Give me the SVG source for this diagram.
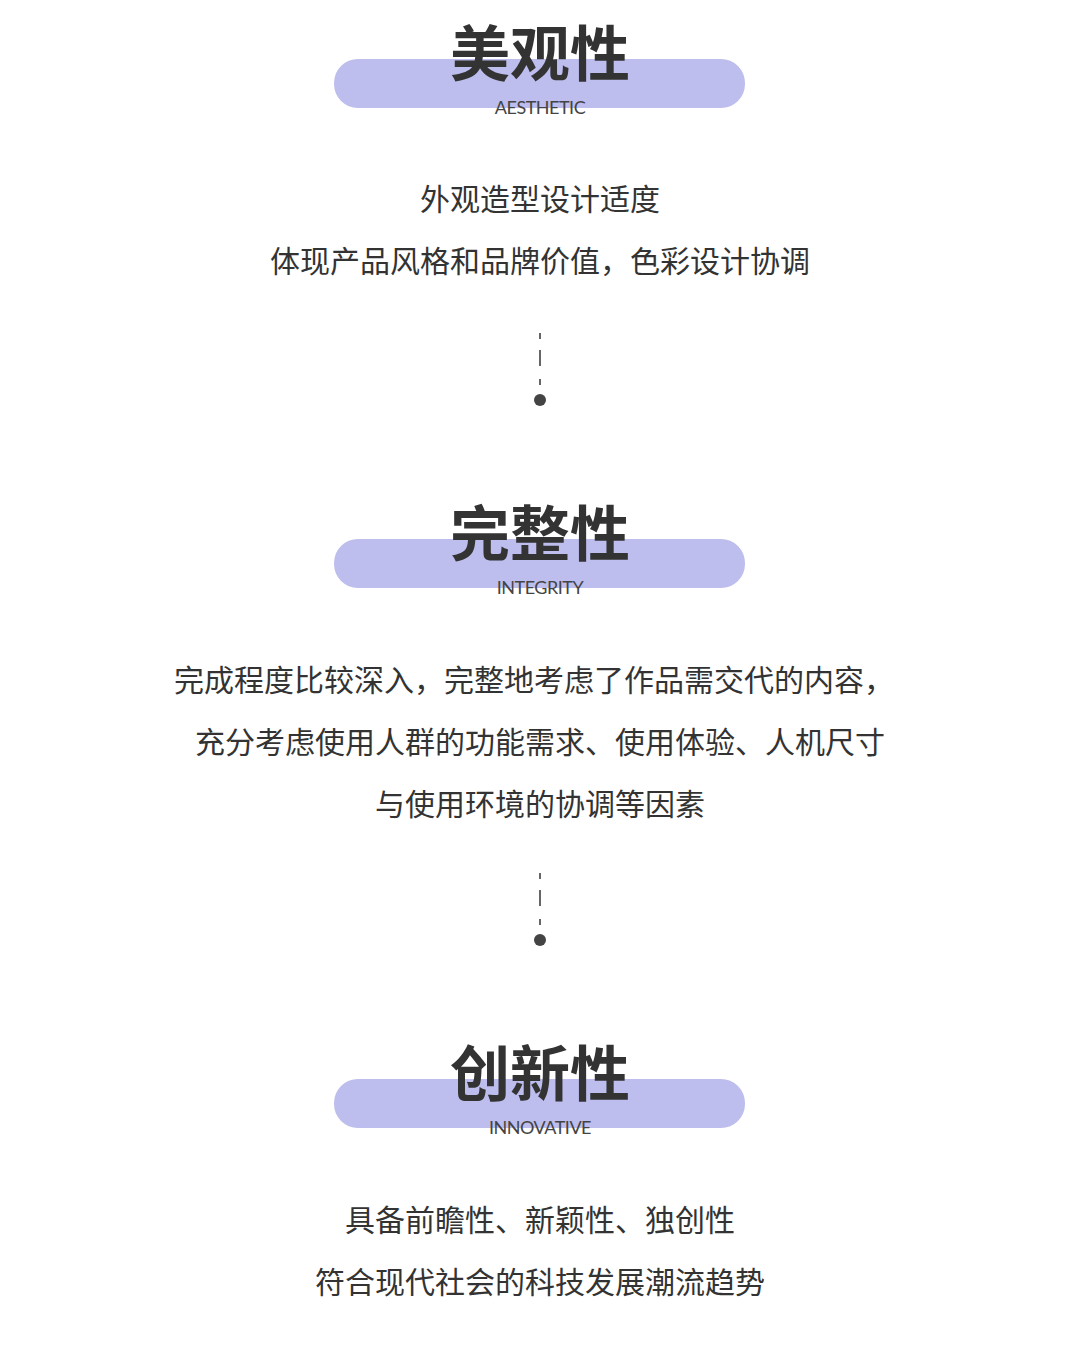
<svg xmlns="http://www.w3.org/2000/svg" width="1080" height="1370" viewBox="0 0 1080 1370">
<style>
.pill{fill:#bdbdee}
.t{font-family:"Noto Sans CJK SC","Noto Sans",sans-serif;font-weight:700;font-size:60px;fill:#333;text-anchor:middle}
.s{font-family:"Lato","Liberation Sans",sans-serif;font-size:18px;fill:#444;text-anchor:middle;letter-spacing:-0.5px}
.b{font-family:"Noto Sans CJK SC",sans-serif;font-size:30px;fill:#333;text-anchor:middle}
.d{stroke:#666;stroke-width:2}
</style>
<rect width="1080" height="1370" fill="#fff"/>
<g id="aesthetic">
<rect class="pill" x="334" y="59" width="411" height="49" rx="24"/>
<text class="t" x="540" y="76">美观性</text>
<text class="s" x="540" y="114">AESTHETIC</text>
<text class="b" x="540" y="210">外观造型设计适度</text>
<text class="b" x="540" y="272">体现产品风格和品牌价值，色彩设计协调</text>
</g>
<g id="integrity">
<rect class="pill" x="334" y="539" width="411" height="49" rx="24"/>
<text class="t" x="540" y="556">完整性</text>
<text class="s" x="540" y="594">INTEGRITY</text>
<text class="b" x="534" y="691">完成程度比较深入，完整地考虑了作品需交代的内容，</text>
<text class="b" x="540" y="753">充分考虑使用人群的功能需求、使用体验、人机尺寸</text>
<text class="b" x="540" y="815">与使用环境的协调等因素</text>
</g>
<g id="innovative">
<rect class="pill" x="334" y="1079" width="411" height="49" rx="24"/>
<text class="t" x="540" y="1096">创新性</text>
<text class="s" x="540" y="1134">INNOVATIVE</text>
<text class="b" x="540" y="1231">具备前瞻性、新颖性、独创性</text>
<text class="b" x="540" y="1293">符合现代社会的科技发展潮流趋势</text>
</g>
<g id="connectors">
<path class="d" d="M540 333v6M540 350v16M540 379v6"/>
<circle cx="540" cy="400" r="6" fill="#444"/>
<path class="d" d="M540 873v6M540 890v16M540 919v6"/>
<circle cx="540" cy="940" r="6" fill="#444"/>
</g>
</svg>
